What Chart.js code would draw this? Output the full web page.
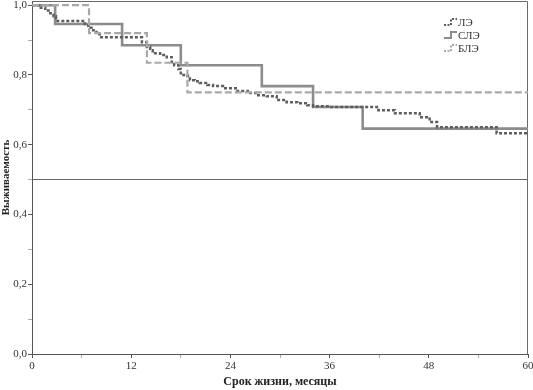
<!DOCTYPE html>
<html>
<head>
<meta charset="utf-8">
<script src="https://cdn.jsdelivr.net/npm/chart.js@4/dist/chart.umd.min.js"></script>
<style>
  html, body { margin: 0; padding: 0; background: #ffffff; }
  #wrap { width: 533px; height: 390px; position: relative; }
</style>
</head>
<body>
<div id="wrap"><canvas id="c" width="533" height="390"></canvas></div>
<script>
// ---- data (months, survival) ----
const seriesNames = ['ЛЭ', 'СЛЭ', 'БЛЭ'];

const leTimes = [0, 0.8, 1.6, 2.2, 2.6, 2.9, 6.4, 6.8, 7.2, 7.8, 8.2, 13.3, 13.9, 14.3, 14.6, 15.5, 16.3, 16.9, 17.2, 17.7, 18.0, 18.8, 19.1, 19.7, 20.3, 21.2, 21.9, 23.1, 24.8, 26.4, 27.2, 28.4, 29.6, 30.8, 32.1, 33.3, 34.0, 36.0, 41.9, 43.9, 46.9, 48.1, 49.0, 56.2, 60];
const leSurv  = [1.0, 0.993, 0.985, 0.977, 0.968, 0.955, 0.946, 0.935, 0.928, 0.917, 0.908, 0.894, 0.88, 0.871, 0.862, 0.857, 0.851, 0.837, 0.828, 0.817, 0.80, 0.797, 0.785, 0.782, 0.777, 0.771, 0.768, 0.762, 0.754, 0.748, 0.742, 0.739, 0.728, 0.722, 0.719, 0.713, 0.71, 0.708, 0.699, 0.69, 0.679, 0.665, 0.65, 0.633, 0.633];

const sleTimes = [0, 2.8, 10.9, 18.0, 27.8, 34.0, 40.0, 60];
const sleSurv  = [1.0, 0.946, 0.885, 0.828, 0.768, 0.708, 0.646, 0.646];

const bleTimes = [0, 6.9, 13.9, 18.8, 60];
const bleSurv  = [1.0, 0.92, 0.835, 0.75, 0.75];

const xTickValues = [0, 6, 12, 18, 24, 30, 36, 42, 48, 54, 60];
const yTickValues = [0, 0.1, 0.2, 0.3, 0.4, 0.5, 0.6, 0.7, 0.8, 0.9, 1.0];
const refLineValue = 0.5;

// ---- build points ----
function pts(t, s) { return t.map((x, i) => ({ x: x, y: s[i] })); }

const serif = '"Liberation Serif", "DejaVu Serif", serif';

const styles = [
  { color: '#5e5e5e', width: 2.5, dash: [3, 2] },
  { color: '#8c8c8c', width: 2.6, dash: [] },
  { color: '#a9a9a9', width: 2.2, dash: [7, 3] }
];

const datasets = [
  pts(leTimes, leSurv), pts(sleTimes, sleSurv), pts(bleTimes, bleSurv)
].map((d, i) => ({
  label: seriesNames[i],
  data: d,
  stepped: 'before',
  borderColor: styles[i].color,
  borderWidth: styles[i].width,
  borderDash: styles[i].dash,
  pointRadius: 0,
  fill: false,
  tension: 0,
  order: [1, 2, 0][i]
}));

const framePlugin = {
  id: 'frame',
  beforeDatasetsDraw(chart) {
    const { ctx, chartArea: a } = chart;
    ctx.save();
    ctx.strokeStyle = '#6a6a6a';
    ctx.lineWidth = 1;
    ctx.beginPath();
    ctx.moveTo(a.left, a.top + 0.5);
    ctx.lineTo(a.right - 0.5, a.top + 0.5);
    ctx.lineTo(a.right - 0.5, a.bottom);
    ctx.stroke();
    ctx.restore();
  }
};

const legendPlugin = {
  id: 'stepLegend',
  afterDatasetsDraw(chart) {
    const { ctx } = chart;
    const x0 = 444, y0 = 22, dy = 13;
    ctx.save();
    chart.data.datasets.forEach((ds, i) => {
      const y = y0 + i * dy;
      ctx.strokeStyle = ds.borderColor;
      ctx.lineWidth = 2;
      ctx.setLineDash(ds.borderDash.length ? [2, 1.5] : []);
      ctx.beginPath();
      ctx.moveTo(x0, y + 3);
      ctx.lineTo(x0 + 7, y + 3);
      ctx.lineTo(x0 + 7, y - 3);
      ctx.lineTo(x0 + 13, y - 3);
      ctx.stroke();
      ctx.setLineDash([]);
      ctx.fillStyle = '#333';
      ctx.font = '11px ' + serif;
      ctx.textBaseline = 'middle';
      ctx.textAlign = 'left';
      ctx.fillText(ds.label, x0 + 14, y + 1);
    });
    ctx.restore();
  }
};

new Chart(document.getElementById('c'), {
  type: 'line',
  data: { datasets },
  plugins: [framePlugin, legendPlugin],
  options: {
    responsive: false,
    animation: false,
    layout: { padding: { top: 1, right: 5, left: 0, bottom: 0 } },
    plugins: { legend: { display: false }, tooltip: { enabled: false } },
    scales: {
      x: {
        type: 'linear',
        min: 0, max: 60,
        afterBuildTicks: s => { s.ticks = xTickValues.map(v => ({ value: v })); },
        afterFit: s => { s.height = 36; s.paddingLeft = 0; s.paddingRight = 0; },
        ticks: {
          autoSkip: false, maxRotation: 0, padding: 2,
          color: '#333',
          font: { family: serif, size: 11 },
          callback: v => (v % 12 === 0 ? String(v) : '')
        },
        grid: {
          drawOnChartArea: false, tickLength: 4,
          tickColor: c => (c.tick && c.tick.value % 12 === 0 ? '#555' : '#aaa')
        },
        border: { color: '#555', width: 1 },
        title: {
          display: true, text: 'Срок жизни, месяцы', color: '#222',
          font: { family: serif, size: 12, weight: 'bold' },
          padding: { top: 0, bottom: 1 }
        }
      },
      y: {
        type: 'linear',
        min: 0, max: 1.012,
        afterBuildTicks: s => { s.ticks = yTickValues.map(v => ({ value: v })); },
        afterFit: s => { s.width = 32; s.paddingTop = 0; s.paddingBottom = 0; },
        ticks: {
          padding: 1, color: '#333',
          font: { family: serif, size: 11 },
          callback: v => (Math.round(v * 10) % 2 === 0 ? v.toFixed(1).replace('.', ',') : '')
        },
        grid: {
          drawOnChartArea: true, tickLength: 4,
          color: c => (c.tick && Math.abs(c.tick.value - refLineValue) < 1e-9 ? '#666' : 'rgba(0,0,0,0)'),
          tickColor: c => (c.tick && Math.round(c.tick.value * 10) % 2 === 0 ? '#555' : '#aaa')
        },
        border: { color: '#555', width: 1 },
        title: {
          display: true, text: 'Выживаемость', color: '#222',
          font: { family: serif, size: 11, weight: 'bold' },
          padding: { top: 0, bottom: 0 }
        }
      }
    }
  }
});
</script>
</body>
</html>
